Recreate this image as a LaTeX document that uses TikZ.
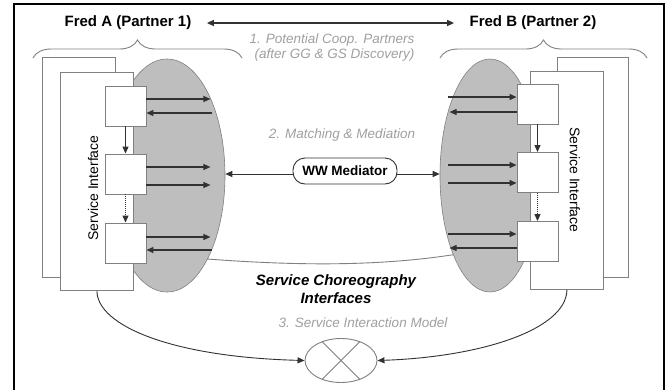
\documentclass[tikz,border=0pt]{standalone}
\usepackage{fontspec}
\setmainfont{Liberation Sans}
\usetikzlibrary{shapes.geometric,arrows.meta,calc,decorations.pathreplacing}
\definecolor{ellfill}{RGB}{190,190,190}
\definecolor{edgegrey}{RGB}{128,128,128}
\definecolor{linegrey}{RGB}{50,50,50}
\definecolor{txtgrey}{RGB}{160,160,160}
\tikzset{
  arr/.style={draw=linegrey, line width=1.3pt, -{Triangle[length=7pt,width=6pt]}},
  ellshape/.style={ellipse, draw=edgegrey, fill=ellfill, inner sep=0pt, line width=0.6pt},
  rectbox/.style={draw=edgegrey, fill=white, inner sep=0pt, line width=0.9pt},
  smallbox/.style={draw=edgegrey, fill=white, inner sep=0pt, line width=0.9pt, minimum width=41pt, minimum height=40pt},
  greytext/.style={text=txtgrey, font=\fontsize{13.5}{15}\selectfont\itshape},
  titletext/.style={font=\fontsize{15}{17}\selectfont\bfseries},
  sitext/.style={font=\fontsize{14}{16}\selectfont},
  bracestyle/.style={draw=edgegrey, line width=0.9pt, decorate, decoration={brace, amplitude=18pt}},
}
\begin{document}
\begin{tikzpicture}[x=1pt,y=-1pt]
\useasboundingbox (0,0) rectangle (665,389);
\fill[white] (0,0) rectangle (665,389);
% frame
\draw[black, line width=2pt] (14,392) -- (14,4.3) -- (664,4.3) -- (664,392);

% titles
\node[titletext] (fa) at (128,23) {Fred A (Partner 1)};
\node[titletext] (fb) at (533,23) {Fred B (Partner 2)};
\coordinate (pa) at ($(fa.east)+(12,0)$);
\coordinate (pb) at ($(fb.west)+(-12,0)$);
\draw[arr, {Triangle[length=7pt,width=6pt]}-{Triangle[length=7pt,width=6pt]}] (pa) -- (pb);
\node[greytext, align=right] (t1) at (332,48) {1. Potential Coop. Partners\\(after GG \& GS Discovery)};

% braces
\coordinate (bl1) at (33,58); \coordinate (bl2) at (242,58);
\coordinate (br1) at (440,58); \coordinate (br2) at (647,58);
\draw[bracestyle] (bl1) -- (bl2);
\draw[bracestyle] (br1) -- (br2);

% ellipses
\node[ellshape, minimum width=116pt, minimum height=233pt] (ellL) at (167,175.5) {};
\node[ellshape, minimum width=100pt, minimum height=233pt] (ellR) at (490,175.5) {};

% connecting line between ellipses
\draw[edgegrey, line width=0.9pt] (ellL.-64) .. controls (300,266) and (380,266) .. (ellR.-115);

% left rectangles
\node[rectbox, minimum width=73pt, minimum height=220pt, anchor=north west] (bkL) at (42,57) {};
\node[rectbox, minimum width=73pt, minimum height=218pt, anchor=north west] (fL) at (60,72) {};
\node[sitext, rotate=90] (siL) at (93,188) {Service Interface};
% right rectangles
\node[rectbox, minimum width=71pt, minimum height=220pt, anchor=north west] (bkR) at (557,57) {};
\node[rectbox, minimum width=73pt, minimum height=218pt, anchor=north west] (fR) at (530,71) {};
\node[sitext, rotate=-90] (siR) at (575,180) {Service Interface};

% left boxes
\node[smallbox] (a1) at (125.5,106) {};
\node[smallbox] (a2) at (125.5,174) {};
\node[smallbox] (a3) at (125.5,243) {};
\draw[arr, line width=1pt] (a1) -- (a2);
\draw[arr, line width=1pt, densely dotted] (a2) -- (a3);
% right boxes
\node[smallbox] (b1) at (537.5,104) {};
\node[smallbox] (b2) at (537.5,172.5) {};
\node[smallbox] (b3) at (537.5,241.5) {};
\draw[arr, line width=1pt] (b1) -- (b2);
\draw[arr, line width=1pt, densely dotted] (b2) -- (b3);

% left horizontal arrows
\draw[arr] (a1.east |- 0,99) -- ++(64,0);
\draw[arr] (212,113) -- (a1.east |- 0,113);
\draw[arr] (a2.east |- 0,167) -- ++(64,0);
\draw[arr] (a2.east |- 0,185) -- ++(64,0);
\draw[arr] (a3.east |- 0,237) -- ++(64,0);
\draw[arr] (212,250) -- (a3.east |- 0,250);
% right horizontal arrows
\draw[arr] (448,97) -- (b1.west |- 0,97);
\draw[arr] (b1.west |- 0,112) -- ++(-67,0);
\draw[arr] (448,165) -- (b2.west |- 0,165);
\draw[arr] (448,183) -- (b2.west |- 0,183);
\draw[arr] (448,234) -- (b3.west |- 0,234);
\draw[arr] (b3.west |- 0,248) -- ++(-67,0);

% mediator
\node[greytext] (t2) at (342,135) {2. Matching \& Mediation};
\node[draw=linegrey, line width=0.9pt, fill=white, rounded corners=12pt, minimum width=104pt, minimum height=26pt, inner sep=0pt, font=\fontsize{13.5}{15}\selectfont\bfseries] (med) at (345,171) {WW Mediator};
\draw[arr, line width=1pt] ([yshift=-3pt]med.west) -- ([yshift=-3pt]med.west -| ellL.east);
\draw[arr, line width=1pt] ([yshift=-3pt]med.east) -- ([yshift=-3pt]med.east -| ellR.west);

% choreography text
\node[font=\fontsize{15}{18}\selectfont\bfseries\itshape, align=center] (sc) at (336,289) {Service Choreography\\Interfaces};
\node[greytext] (t3) at (363,323) {3. Service Interaction Model};

% interaction model
\node[ellipse, draw=edgegrey, line width=0.9pt, minimum width=72pt, minimum height=44pt, inner sep=0pt] (X) at (341,360.5) {};
\draw[edgegrey, line width=0.9pt] (X.45) -- (X.225);
\draw[edgegrey, line width=0.9pt] (X.135) -- (X.315);

% bottom curves
\draw[arr, line width=0.9pt] (fL.south) .. controls (97,325) and (170,357) .. (X.west);
\draw[arr, line width=0.9pt] (fR.south) .. controls (566,330) and (480,357) .. (X.east);
\end{tikzpicture}
\end{document}
